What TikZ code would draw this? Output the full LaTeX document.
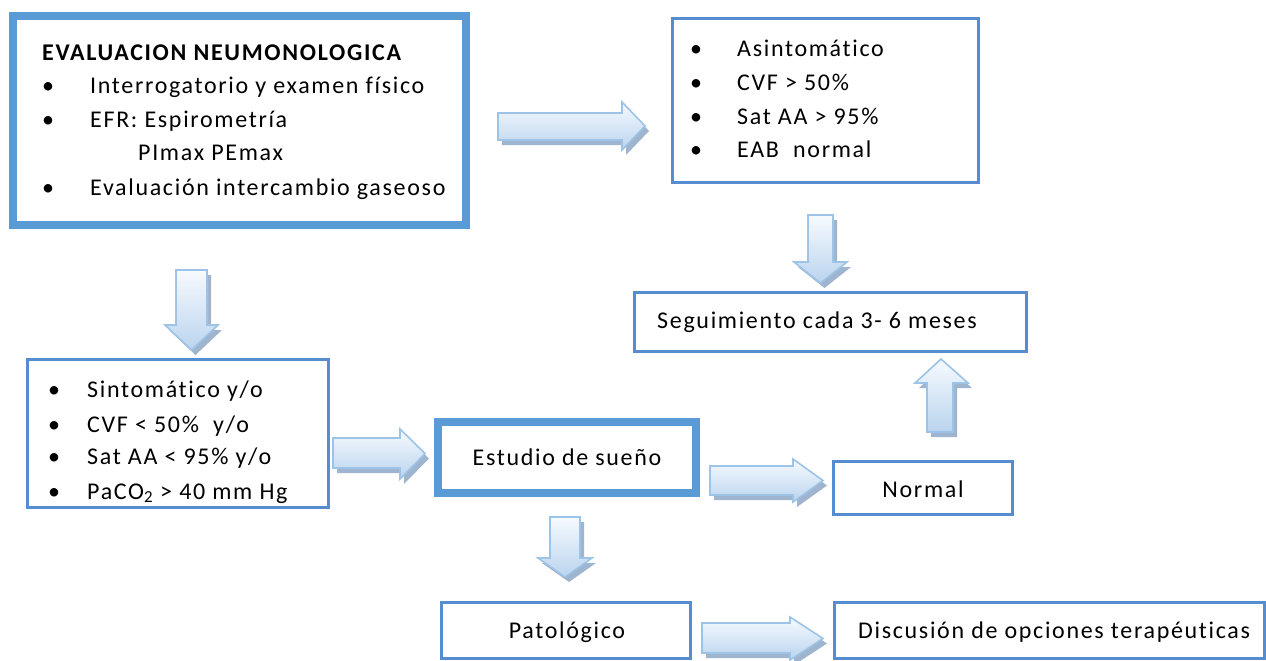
\documentclass[tikz,border=0pt]{standalone}
\usepackage{fontspec}
\setmainfont{Carlito}[LetterSpace=7,Ligatures={NoCommon}]
\definecolor{boxblue}{RGB}{86,141,208}
\definecolor{bandblue}{RGB}{91,155,213}
\definecolor{arrborder}{RGB}{157,195,230}
\definecolor{arrfill}{RGB}{186,212,238}
\definecolor{arrtop}{RGB}{246,250,254}
\definecolor{arrshadow}{RGB}{128,156,190}
\newcommand\barrow[1]{\fill[arrshadow,opacity=0.75,shift={(4,5)}] #1; \draw[arrbody] #1;}
\begin{document}
\begin{tikzpicture}[x=1pt,y=-1pt,
  box/.style={draw=boxblue,line width=3pt,inner sep=0pt},
  bandbox/.style={draw=bandblue,line width=8pt,inner sep=0pt},
  thinline/.style={draw=bandblue,line width=1.5pt},
  arrbody/.style={draw=arrborder,line width=1.6pt,top color=arrtop,bottom color=arrfill,line join=miter},
  tb/.style={anchor=base west,inner sep=0pt,font=\fontsize{24}{28}\selectfont},
  tc/.style={anchor=base,inner sep=0pt,font=\fontsize{24}{28}\selectfont},
  bulb/.style={anchor=base,inner sep=0pt,font=\fontsize{24}{28}\selectfont}]
\useasboundingbox[fill=white] (0,0) rectangle (1266,661);

% boxes
\node[bandbox,minimum width=453,minimum height=209] (eval) at (239.5,120.5) {};
\draw[thinline] ([shift={(7,7)}]eval.north west) rectangle ([shift={(-7,-7)}]eval.south east);
\node[box,minimum width=306,minimum height=164] (asin) at (825.5,100.5) {};
\node[box,minimum width=392,minimum height=59] (seg) at (830.5,322) {};
\node[box,minimum width=301,minimum height=148] (sint) at (178,433.5) {};
\node[bandbox,minimum width=258,minimum height=71] (est) at (567,457.5) {};
\draw[thinline] ([shift={(7,7)}]est.north west) rectangle ([shift={(-7,-7)}]est.south east);
\node[box,minimum width=179,minimum height=53] (norm) at (923,488) {};
\node[box,minimum width=249,minimum height=56] (pat) at (566,630) {};
\node[box,minimum width=430,minimum height=56] (disc) at (1049,630) {};

% texts box 1
\node[tb,font=\fontsize{24}{28}\selectfont\bfseries] (t1) at (42,61) {EVALUACION NEUMONOLOGICA};
\node[bulb] (b11) at (48,93) {\textbullet};
\node[tb] (t11) at (90,93) {Interrogatorio y examen físico};
\node[bulb] (b12) at (48,127) {\textbullet};
\node[tb] (t12) at (90,127) {EFR: Espirometría};
\node[tb] (t13) at (138,160) {PImax PEmax};
\node[bulb] (b14) at (48,195) {\textbullet};
\node[tb] (t14) at (90,195) {Evaluación intercambio gaseoso};

% texts box asin
\node[bulb] (b21) at (696,57) {\textbullet};
\node[tb] (t21) at (737,57) {Asintomático};
\node[bulb] (b22) at (696,91) {\textbullet};
\node[tb] (t22) at (737,91) {CVF > 50\%};
\node[bulb] (b23) at (696,124) {\textbullet};
\node[tb] (t23) at (737,124) {Sat AA > 95\%};
\node[bulb] (b24) at (696,157) {\textbullet};
\node[tb] (t24) at (737,157) {EAB\ \ normal};

% texts box sint
\node[bulb] (b31) at (54,397) {\textbullet};
\node[tb] (t31) at (87,397) {Sintomático y/o};
\node[bulb] (b32) at (54,432) {\textbullet};
\node[tb] (t32) at (87,432) {CVF < 50\%\ \ y/o};
\node[bulb] (b33) at (54,464) {\textbullet};
\node[tb] (t33) at (87,464) {Sat AA < 95\% y/o};
\node[bulb] (b34) at (54,499) {\textbullet};
\node[tb] (t34) at (87,499) {PaCO\textsubscript{2} > 40 mm Hg};

% other texts
\node[tb] (tseg) at (657,328) {Seguimiento cada 3- 6 meses};
\node[tc] (test) at (567,465) {Estudio de sueño};
\node[tc] (tnorm) at (923,497) {Normal};
\node[tc] (tpat) at (567,638) {Patológico};
\node[tb] (tdisc) at (858,638) {Discusión de opciones terapéuticas};

% block arrows
\barrow{(498,113)--(622,113)--(622,102)--(645,126)--(622,150)--(622,140)--(498,140)--cycle}
\barrow{(808,215)--(833,215)--(833,262)--(847,262)--(820.5,283)--(794,262)--(808,262)--cycle}
\barrow{(176,270)--(207,270)--(207,325)--(218,325)--(191.5,350)--(165,325)--(176,325)--cycle}
\barrow{(333,438)--(400,438)--(400,429)--(425,453.5)--(400,479)--(400,468)--(333,468)--cycle}
\barrow{(710,466)--(793,466)--(793,459)--(823,480.5)--(793,502)--(793,495)--(710,495)--cycle}
\barrow{(550,517)--(580,517)--(580,558)--(592,558)--(565,577)--(538,558)--(550,558)--cycle}
\barrow{(927,432)--(953,432)--(953,383)--(968,383)--(941,359)--(915,383)--(927,383)--cycle}
\barrow{(702,623)--(790,623)--(790,617)--(823,638.5)--(790,660)--(790,653)--(702,653)--cycle}
\end{tikzpicture}
\end{document}
